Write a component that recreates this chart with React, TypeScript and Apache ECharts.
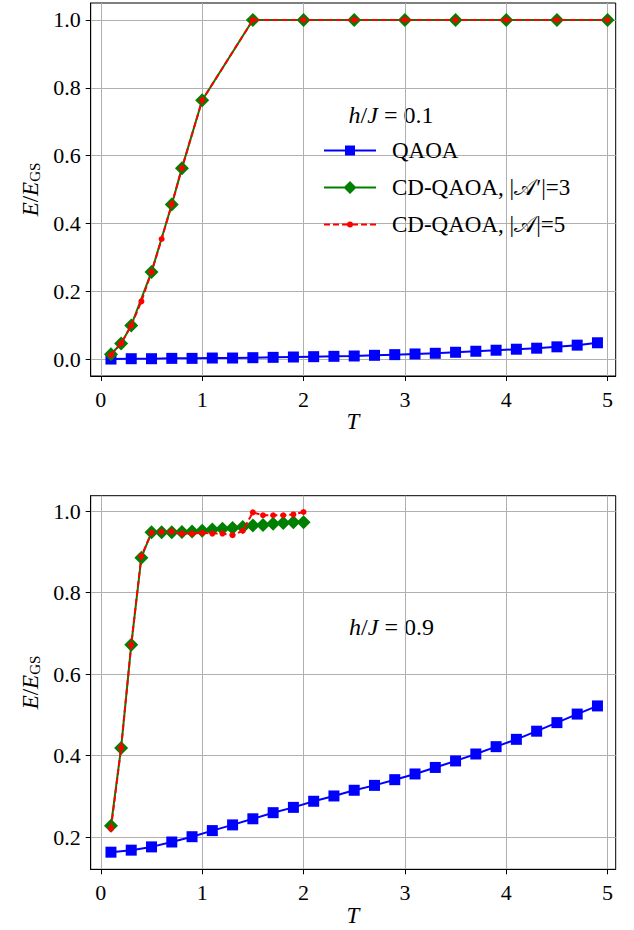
import React, { useEffect, useRef } from "react";
import * as echarts from "echarts";

// Shared x grid for the QAOA runs (both panels)
const T_QAOA = [0.1, 0.3, 0.5, 0.7, 0.9, 1.1, 1.3, 1.5, 1.7, 1.9, 2.1, 2.3, 2.5, 2.7, 2.9, 3.1, 3.3, 3.5, 3.7, 3.9, 4.1, 4.3, 4.5, 4.7, 4.9];

// Panel (a): h/J = 0.1
const qaoaTop = [0.0, 0.001, 0.001, 0.002, 0.002, 0.003, 0.003, 0.004, 0.005, 0.006, 0.007, 0.008, 0.009, 0.011, 0.013, 0.015, 0.017, 0.02, 0.023, 0.026, 0.029, 0.032, 0.036, 0.041, 0.048];
const T_CD3_TOP = [0.1, 0.2, 0.3, 0.5, 0.7, 0.8, 1.0, 1.5, 2.0, 2.5, 3.0, 3.5, 4.0, 4.5, 5.0];
const cd3Top = [0.014, 0.046, 0.099, 0.257, 0.456, 0.563, 0.763, 1.0, 1.0, 1.0, 1.0, 1.0, 1.0, 1.0, 1.0];
const T_CD5_TOP = [0.1, 0.2, 0.3, 0.4, 0.5, 0.6, 0.7, 0.8, 1.0, 1.5, 2.0, 2.5, 3.0, 3.5, 4.0, 4.5, 5.0];
const cd5Top = [0.012, 0.046, 0.099, 0.17, 0.257, 0.354, 0.456, 0.563, 0.763, 1.0, 1.0, 1.0, 1.0, 1.0, 1.0, 1.0, 1.0];

// Panel (b): h/J = 0.9
const qaoaBot = [0.163, 0.168, 0.176, 0.188, 0.201, 0.216, 0.23, 0.245, 0.26, 0.273, 0.288, 0.301, 0.315, 0.327, 0.341, 0.355, 0.371, 0.387, 0.404, 0.422, 0.44, 0.46, 0.481, 0.502, 0.522];
const T_CD_BOT = [0.1, 0.2, 0.3, 0.4, 0.5, 0.6, 0.7, 0.8, 0.9, 1.0, 1.1, 1.2, 1.3, 1.4, 1.5, 1.6, 1.7, 1.8, 1.9, 2.0];
const cd3Bot = [0.228, 0.419, 0.672, 0.886, 0.948, 0.948, 0.948, 0.949, 0.95, 0.952, 0.955, 0.957, 0.959, 0.961, 0.965, 0.966, 0.969, 0.971, 0.973, 0.973];
const cd5Bot = [0.221, 0.419, 0.672, 0.89, 0.947, 0.949, 0.95, 0.945, 0.945, 0.947, 0.945, 0.945, 0.941, 0.952, 0.997, 0.99, 0.99, 0.99, 0.992, 0.998];

// Tick values
const X_TICKS = [0, 1, 2, 3, 4, 5];
const Y_TICKS_TOP = [0, 0.2, 0.4, 0.6, 0.8, 1.0];
const Y_TICKS_BOT = [0.2, 0.4, 0.6, 0.8, 1.0];

const NAME_QAOA = "QAOA";
const NAME_CD3 = "CD-QAOA, |𝒜′|=3";
const NAME_CD5 = "CD-QAOA, |𝒜|=5";

const BLUE = "#0000ff";
const GREEN = "#008000";
const RED = "#ff0000";

const FONT = "Liberation Serif, DejaVu Serif, serif";

const zip = (xs: number[], ys: number[]) => xs.map((x, i) => [x, ys[i]]);

// Legend glyphs (line + marker) on a 52x14 box; tiny corner squares pin the box size.
const CORNERS = "M0 0h0.01v0.01h-0.01Z M51.99 13.99h0.01v0.01h-0.01Z ";
const ICON_QAOA = "path://" + CORNERS + "M0 6h52v2h-52Z M21 2h10v10h-10Z";
const ICON_CD3 = "path://" + CORNERS + "M0 6h52v2h-52Z M26 0.5L32.5 7L26 13.5L19.5 7Z";
const ICON_CD5 =
  "path://" + CORNERS +
  "M0 6h6v2h-6Z M9 6h6v2h-6Z M18 6h6v2h-6Z M28 6h6v2h-6Z M37 6h6v2h-6Z M46 6h6v2h-6Z " +
  "M23 7a3 3 0 1 1 6 0a3 3 0 1 1 -6 0Z";

const mathRich = {
  i: { fontFamily: FONT, fontStyle: "italic", fontSize: 23, color: "#000" },
  n: { fontFamily: FONT, fontSize: 23, color: "#000" },
  h: { fontFamily: FONT, fontStyle: "italic", fontSize: 24, color: "#000" },
  m: { fontFamily: FONT, fontSize: 24, color: "#000" },
  s: { fontFamily: FONT, fontSize: 15, color: "#000", verticalAlign: "bottom", padding: [10, 0, 0, 0] },
};

function xAxisFor(gridIndex: number) {
  return {
    type: "value",
    gridIndex,
    min: -0.1,
    max: 5.08,
    axisLine: { show: true, onZero: false, lineStyle: { color: "#000", width: 1 } },
    axisTick: { show: true, inside: false, length: 5, customValues: X_TICKS, lineStyle: { color: "#000", width: 1 } },
    axisLabel: {
      customValues: X_TICKS,
      margin: 12,
      fontFamily: FONT,
      fontSize: 22,
      color: "#000",
      formatter: (v: number) => String(v),
    },
    splitLine: { show: true, lineStyle: { color: "#b0b0b0", width: 1 } },
  };
}

function yAxisFor(gridIndex: number, min: number, max: number, ticks: number[]) {
  return {
    type: "value",
    gridIndex,
    min,
    max,
    axisLine: { show: true, onZero: false, lineStyle: { color: "#000", width: 1 } },
    axisTick: { show: true, inside: false, length: 5, customValues: ticks, lineStyle: { color: "#000", width: 1 } },
    axisLabel: {
      customValues: ticks,
      margin: 10,
      fontFamily: FONT,
      fontSize: 22,
      color: "#000",
      formatter: (v: number) => v.toFixed(1),
    },
    splitLine: { show: true, lineStyle: { color: "#b0b0b0", width: 1 } },
  };
}

function seriesFor(idx: number, qaoa: number[], t3: number[], cd3: number[], t5: number[], cd5: number[]) {
  return [
    {
      name: NAME_QAOA,
      type: "line",
      xAxisIndex: idx,
      yAxisIndex: idx,
      data: zip(T_QAOA, qaoa),
      symbol: "rect",
      symbolSize: 11,
      lineStyle: { color: BLUE, width: 2 },
      itemStyle: { color: BLUE },
      z: 2,
    },
    {
      name: NAME_CD3,
      type: "line",
      xAxisIndex: idx,
      yAxisIndex: idx,
      data: zip(t3, cd3),
      symbol: "diamond",
      symbolSize: 14,
      lineStyle: { color: GREEN, width: 2 },
      itemStyle: { color: GREEN },
      z: 3,
    },
    {
      name: NAME_CD5,
      type: "line",
      xAxisIndex: idx,
      yAxisIndex: idx,
      data: zip(t5, cd5),
      symbol: "circle",
      symbolSize: 6,
      lineStyle: { color: RED, width: 2, type: [6, 3] },
      itemStyle: { color: RED },
      z: 4,
    },
  ];
}

function mathText(x: number, y: number, text: string, rotation = 0) {
  return {
    type: "text",
    x,
    y,
    rotation,
    style: {
      text,
      rich: mathRich,
      align: "center",
      verticalAlign: "middle",
    },
  };
}

export default function App() {
  const ref = useRef<HTMLDivElement>(null);

  useEffect(() => {
    if (!ref.current) return;
    const chart = echarts.init(ref.current, undefined, { renderer: "svg" });

    const legendLabel: Record<string, string> = {
      [NAME_QAOA]: "QAOA",
      [NAME_CD3]: "CD-QAOA, |{c|𝒜′}|=3",
      [NAME_CD5]: "CD-QAOA, |{c|𝒜}|=5",
    };

    chart.setOption({
      animation: false,
      backgroundColor: "#fff",
      grid: [
        { left: 90.7, top: 3, width: 525, height: 373, show: true, borderColor: "#000", borderWidth: 1, backgroundColor: "transparent" },
        { left: 90.7, top: 495.7, width: 525, height: 373.6, show: true, borderColor: "#000", borderWidth: 1, backgroundColor: "transparent" },
      ],
      xAxis: [xAxisFor(0), xAxisFor(1)],
      yAxis: [yAxisFor(0, -0.05, 1.05, Y_TICKS_TOP), yAxisFor(1, 0.121, 1.038, Y_TICKS_BOT)],
      legend: {
        data: [
          { name: NAME_QAOA, icon: ICON_QAOA, itemStyle: { color: BLUE, borderWidth: 0 } },
          { name: NAME_CD3, icon: ICON_CD3, itemStyle: { color: GREEN, borderWidth: 0 } },
          { name: NAME_CD5, icon: ICON_CD5, itemStyle: { color: RED, borderWidth: 0 } },
        ],
        orient: "vertical",
        left: 319,
        top: 134,
        itemWidth: 52,
        itemHeight: 14,
        itemGap: 14,
        selectedMode: false,
        formatter: (name: string) => legendLabel[name] ?? name,
        textStyle: {
          fontFamily: FONT,
          fontSize: 23,
          color: "#000",
          padding: [0, 0, 0, 11],
          rich: {
            c: { fontFamily: FONT, fontSize: 23, color: "#000" },
          },
        },
      },
      series: [
        ...seriesFor(0, qaoaTop, T_CD3_TOP, cd3Top, T_CD5_TOP, cd5Top),
        ...seriesFor(1, qaoaBot, T_CD_BOT, cd3Bot, T_CD_BOT, cd5Bot),
      ],
      graphic: [
        mathText(30, 189.5, "{i|E}{n|/}{i|E}{s|GS}", Math.PI / 2),
        mathText(30, 682.5, "{i|E}{n|/}{i|E}{s|GS}", Math.PI / 2),
        mathText(353, 421.5, "{i|T}"),
        mathText(353, 915, "{i|T}"),
        mathText(391, 115, "{h|h}{m|/}{h|J}{m| = 0.1}"),
        mathText(391.5, 627, "{h|h}{m|/}{h|J}{m| = 0.9}"),
      ],
    });

    return () => chart.dispose();
  }, []);

  return (
    <div
      ref={ref}
      style={{ position: "absolute", left: 0, top: 0, width: 634, height: 930 }}
    />
  );
}
